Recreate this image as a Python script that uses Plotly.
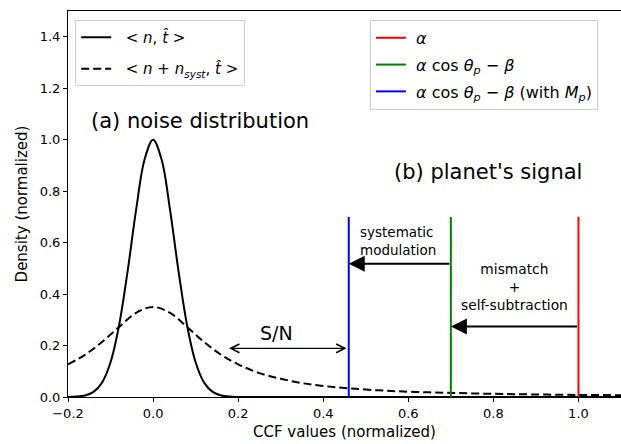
import plotly.graph_objects as go

# ---- data ----
noise_x = [-0.2, -0.18, -0.16, -0.14, -0.12, -0.10, -0.08, -0.06, -0.04, -0.02, 0.0,
           0.02, 0.04, 0.06, 0.08, 0.10, 0.12, 0.14, 0.16, 0.18, 0.20, 0.24, 0.4, 0.7, 1.1]
noise_y = [0.0003, 0.0015, 0.006, 0.020, 0.056, 0.135, 0.278, 0.487, 0.726, 0.923, 1.0,
           0.923, 0.726, 0.487, 0.278, 0.135, 0.056, 0.020, 0.006, 0.0015, 0.0003, 0.0, 0.0, 0.0, 0.0]

syst_x = [-0.2, -0.16, -0.12, -0.08, -0.04, 0.0, 0.04, 0.08, 0.12, 0.16, 0.2,
          0.25, 0.3, 0.35, 0.4, 0.46, 0.55, 0.65, 0.75, 0.85, 1.0, 1.1]
syst_y = [0.127, 0.164, 0.214, 0.272, 0.327, 0.350, 0.327, 0.272, 0.214, 0.164, 0.127,
          0.093, 0.071, 0.054, 0.043, 0.034, 0.024, 0.018, 0.014, 0.011, 0.008, 0.007]

signal_alpha = 1.0
signal_cos_beta = 0.70
signal_with_mp = 0.46
signal_line_top = 0.70

xticks = [-0.2, 0.0, 0.2, 0.4, 0.6, 0.8, 1.0]
yticks = [0.0, 0.2, 0.4, 0.6, 0.8, 1.0, 1.2, 1.4]

FONT = "DejaVu Sans"
SP = "&nbsp;&nbsp;"

fig = go.Figure()

fig.add_trace(go.Scatter(
    x=noise_x, y=noise_y, mode="lines", line=dict(color="black", width=2, shape="spline"),
    name=SP + "&lt; <i>n</i>, <i>t̂</i> &gt;", legend="legend", legendgroup="a"))
fig.add_trace(go.Scatter(
    x=syst_x, y=syst_y, mode="lines",
    line=dict(color="black", width=2, dash="8px,4px", shape="spline"),
    name=SP + "&lt; <i>n</i> + <i>n</i><sub><i>syst</i></sub>, <i>t̂</i> &gt;",
    legend="legend", legendgroup="b"))

for xv, col, nm, grp in [
    (signal_alpha, "#ff0000", "<i>α</i>", "c"),
    (signal_cos_beta, "#008000", "<i>α</i> cos <i>θ</i><sub><i>p</i></sub> − <i>β</i>", "d"),
    (signal_with_mp, "#0000ff", "<i>α</i> cos <i>θ</i><sub><i>p</i></sub> − <i>β</i> (with <i>M</i><sub><i>p</i></sub>)", "e"),
]:
    fig.add_trace(go.Scatter(
        x=[xv, xv], y=[0, signal_line_top], mode="lines",
        line=dict(color=col, width=2), name="&nbsp;" + nm, legend="legend2", legendgroup=grp))

ann = []
ann.append(dict(x=0.11, y=1.074, xref="x", yref="y", text="(a) noise distribution",
                showarrow=False, font=dict(size=21, family=FONT, color="black")))
ann.append(dict(x=0.788, y=0.873, xref="x", yref="y", text="(b) planet's signal",
                showarrow=False, font=dict(size=21, family=FONT, color="black")))
ann.append(dict(x=0.481, y=0.608, xref="x", yref="y", text="systematic<br>modulation",
                showarrow=False, xanchor="left", align="left",
                font=dict(size=13.5, family=FONT, color="black")))
ann.append(dict(x=0.849, y=0.427, xref="x", yref="y", text="mismatch<br>+<br>self-subtraction",
                showarrow=False, align="center",
                font=dict(size=13.8, family=FONT, color="black")))
ann.append(dict(x=0.29, y=0.247, xref="x", yref="y", text="S/N",
                showarrow=False, font=dict(size=19, family=FONT, color="black")))
# arrows
ann.append(dict(x=signal_with_mp, y=0.518, ax=signal_cos_beta, ay=0.518,
                xref="x", yref="y", axref="x", ayref="y", text="", showarrow=True,
                arrowhead=2, arrowsize=1.6, arrowwidth=2, arrowcolor="black"))
ann.append(dict(x=signal_cos_beta, y=0.274, ax=signal_alpha, ay=0.274,
                xref="x", yref="y", axref="x", ayref="y", text="", showarrow=True,
                arrowhead=2, arrowsize=1.6, arrowwidth=2, arrowcolor="black"))
ann.append(dict(x=0.455, y=0.189, ax=0.175, ay=0.189,
                xref="x", yref="y", axref="x", ayref="y", text="", showarrow=True,
                arrowhead=5, startarrowhead=5, arrowside="end+start",
                arrowsize=1.4, startarrowsize=1.4, arrowwidth=1.2, arrowcolor="black"))

legend_common = dict(
    bgcolor="rgba(255,255,255,0.8)", bordercolor="#cccccc", borderwidth=1,
    xanchor="left", yanchor="top", traceorder="grouped")

fig.update_layout(
    width=621, height=444,
    margin=dict(l=68, r=0, t=11, b=47),
    plot_bgcolor="white", paper_bgcolor="white",
    font=dict(family=FONT, color="black", size=13),
    annotations=ann,
    legend=dict(x=0.013, y=0.977, tracegroupgap=9,
                font=dict(size=15, family=FONT, color="black"), **legend_common),
    legend2=dict(x=0.546, y=0.977, tracegroupgap=3,
                 font=dict(size=16, family=FONT, color="black"), **legend_common),
    xaxis=dict(range=[-0.2, 1.1], tickvals=xticks, tickformat=".1f",
               showline=True, linecolor="black", linewidth=1, mirror=True,
               ticks="outside", ticklen=4, tickcolor="black", showgrid=False, zeroline=False,
               title=dict(text="CCF values (normalized)", font=dict(size=15), standoff=6),
               tickfont=dict(size=13)),
    yaxis=dict(range=[0, 1.5], tickvals=yticks, tickformat=".1f",
               showline=True, linecolor="black", linewidth=1, mirror=True,
               ticks="outside", ticklen=4, tickcolor="black", showgrid=False, zeroline=False,
               title=dict(text="Density (normalized)", font=dict(size=15), standoff=8),
               tickfont=dict(size=13)),
)

fig.write_html("out.html")
